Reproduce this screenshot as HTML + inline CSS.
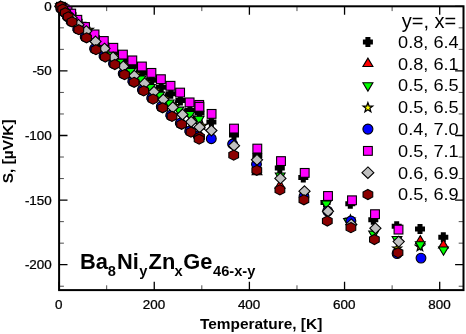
<!DOCTYPE html>
<html><head><meta charset="utf-8"><title>Seebeck coefficient</title>
<style>html,body{margin:0;padding:0;background:#fff}svg{display:block}svg text{font-family:"Liberation Sans",sans-serif}</style></head>
<body>
<svg width="466" height="334" viewBox="0 0 466 334">
<rect width="466" height="334" fill="#fff"/>
<path d="M59.1 6.3 v8.4 M59.1 290.1 v-8.4 M154.25 6.3 v8.4 M154.25 290.1 v-8.4 M249.4 6.3 v8.4 M249.4 290.1 v-8.4 M344.55 6.3 v8.4 M344.55 290.1 v-8.4 M439.7 6.3 v8.4 M439.7 290.1 v-8.4 M59.1 6.3 h8.4 M463.5 6.3 h-8.4 M59.1 70.9 h8.4 M463.5 70.9 h-8.4 M59.1 135.5 h8.4 M463.5 135.5 h-8.4 M59.1 200.1 h8.4 M463.5 200.1 h-8.4 M59.1 264.7 h8.4 M463.5 264.7 h-8.4" stroke="#000" stroke-width="1.3" fill="none"/>
<path d="M106.68 6.3 v4.8 M106.68 290.1 v-4.8 M201.82 6.3 v4.8 M201.82 290.1 v-4.8 M296.97 6.3 v4.8 M296.97 290.1 v-4.8 M392.12 6.3 v4.8 M392.12 290.1 v-4.8 M59.1 27.83 h4.8 M463.5 27.83 h-4.8 M59.1 49.37 h4.8 M463.5 49.37 h-4.8 M59.1 92.43 h4.8 M463.5 92.43 h-4.8 M59.1 113.97 h4.8 M463.5 113.97 h-4.8 M59.1 157.03 h4.8 M463.5 157.03 h-4.8 M59.1 178.57 h4.8 M463.5 178.57 h-4.8 M59.1 221.63 h4.8 M463.5 221.63 h-4.8 M59.1 243.17 h4.8 M463.5 243.17 h-4.8 M59.1 286.23 h4.8 M463.5 286.23 h-4.8" stroke="#000" stroke-width="0.7" fill="none"/>
<rect x="59.1" y="6.3" width="404.4" height="283.8" fill="none" stroke="#000" stroke-width="2"/>
<g>
<polygon points="60.9,1.41 65.8,9.64 56,9.64" fill="#f00" stroke="#000" stroke-width="1.1"/>
<polygon points="62.57,3.71 67.47,11.94 57.67,11.94" fill="#f00" stroke="#000" stroke-width="1.1"/>
<polygon points="65.03,6.71 69.93,14.94 60.13,14.94" fill="#f00" stroke="#000" stroke-width="1.1"/>
<polygon points="67.8,10.21 72.7,18.44 62.9,18.44" fill="#f00" stroke="#000" stroke-width="1.1"/>
<polygon points="71.47,14.71 76.37,22.94 66.57,22.94" fill="#f00" stroke="#000" stroke-width="1.1"/>
<polygon points="78.13,21.91 83.03,30.14 73.23,30.14" fill="#f00" stroke="#000" stroke-width="1.1"/>
<polygon points="85.7,29.41 90.6,37.64 80.8,37.64" fill="#f00" stroke="#000" stroke-width="1.1"/>
<polygon points="95.1,41.31 100,49.54 90.2,49.54" fill="#f00" stroke="#000" stroke-width="1.1"/>
<polygon points="104.5,48.61 109.4,56.84 99.6,56.84" fill="#f00" stroke="#000" stroke-width="1.1"/>
<polygon points="114,56.11 118.9,64.34 109.1,64.34" fill="#f00" stroke="#000" stroke-width="1.1"/>
<polygon points="123.7,66.21 128.6,74.44 118.8,74.44" fill="#f00" stroke="#000" stroke-width="1.1"/>
<polygon points="133.3,73.91 138.2,82.14 128.4,82.14" fill="#f00" stroke="#000" stroke-width="1.1"/>
<polygon points="142.9,82.51 147.8,90.74 138,90.74" fill="#f00" stroke="#000" stroke-width="1.1"/>
<polygon points="152.2,90.71 157.1,98.94 147.3,98.94" fill="#f00" stroke="#000" stroke-width="1.1"/>
<polygon points="161.8,99.41 166.7,107.64 156.9,107.64" fill="#f00" stroke="#000" stroke-width="1.1"/>
<polygon points="171.2,108.01 176.1,116.24 166.3,116.24" fill="#f00" stroke="#000" stroke-width="1.1"/>
<polygon points="180.8,115.91 185.7,124.14 175.9,124.14" fill="#f00" stroke="#000" stroke-width="1.1"/>
<polygon points="190.2,123.71 195.1,131.94 185.3,131.94" fill="#f00" stroke="#000" stroke-width="1.1"/>
<polygon points="198.7,128.61 203.6,136.84 193.8,136.84" fill="#f00" stroke="#000" stroke-width="1.1"/>
<polygon points="257,166.51 261.9,174.74 252.1,174.74" fill="#f00" stroke="#000" stroke-width="1.1"/>
<polygon points="280,180.11 284.9,188.34 275.1,188.34" fill="#f00" stroke="#000" stroke-width="1.1"/>
<polygon points="420.3,235.61 425.2,243.84 415.4,243.84" fill="#f00" stroke="#000" stroke-width="1.1"/>
<polygon points="58.7,1.85 63.7,1.85 63.7,4.35 66.2,4.35 66.2,9.36 63.7,9.36 63.7,11.86 58.7,11.86 58.7,9.36 56.2,9.36 56.2,4.35 58.7,4.35" fill="#000"/>
<polygon points="60.4,2.96 65.4,2.96 65.4,5.46 67.9,5.46 67.9,10.46 65.4,10.46 65.4,12.96 60.4,12.96 60.4,10.46 57.9,10.46 57.9,5.46 60.4,5.46" fill="#000"/>
<polygon points="62.3,4.63 67.3,4.63 67.3,7.13 69.8,7.13 69.8,12.13 67.3,12.13 67.3,14.63 62.3,14.63 62.3,12.13 59.8,12.13 59.8,7.13 62.3,7.13" fill="#000"/>
<polygon points="65.3,6.74 70.3,6.74 70.3,9.24 72.8,9.24 72.8,14.24 70.3,14.24 70.3,16.74 65.3,16.74 65.3,14.24 62.8,14.24 62.8,9.24 65.3,9.24" fill="#000"/>
<polygon points="69,9.4 74,9.4 74,11.9 76.5,11.9 76.5,16.9 74,16.9 74,19.4 69,19.4 69,16.9 66.5,16.9 66.5,11.9 69,11.9" fill="#000"/>
<polygon points="75.1,16.29 80.1,16.29 80.1,18.79 82.6,18.79 82.6,23.79 80.1,23.79 80.1,26.29 75.1,26.29 75.1,23.79 72.6,23.79 72.6,18.79 75.1,18.79" fill="#000"/>
<polygon points="82.8,24.28 87.8,24.28 87.8,26.78 90.3,26.78 90.3,31.78 87.8,31.78 87.8,34.28 82.8,34.28 82.8,31.78 80.3,31.78 80.3,26.78 82.8,26.78" fill="#000"/>
<polygon points="92.3,32.49 97.3,32.49 97.3,34.99 99.8,34.99 99.8,39.99 97.3,39.99 97.3,42.49 92.3,42.49 92.3,39.99 89.8,39.99 89.8,34.99 92.3,34.99" fill="#000"/>
<polygon points="101.6,39.82 106.6,39.82 106.6,42.32 109.1,42.32 109.1,47.32 106.6,47.32 106.6,49.82 101.6,49.82 101.6,47.32 99.1,47.32 99.1,42.32 101.6,42.32" fill="#000"/>
<polygon points="111.1,47.36 116.1,47.36 116.1,49.86 118.6,49.86 118.6,54.86 116.1,54.86 116.1,57.36 111.1,57.36 111.1,54.86 108.6,54.86 108.6,49.86 111.1,49.86" fill="#000"/>
<polygon points="120.7,54.91 125.7,54.91 125.7,57.41 128.2,57.41 128.2,62.41 125.7,62.41 125.7,64.91 120.7,64.91 120.7,62.41 118.2,62.41 118.2,57.41 120.7,57.41" fill="#000"/>
<polygon points="130.1,61.35 135.1,61.35 135.1,63.85 137.6,63.85 137.6,68.85 135.1,68.85 135.1,71.35 130.1,71.35 130.1,68.85 127.6,68.85 127.6,63.85 130.1,63.85" fill="#000"/>
<polygon points="139.7,68.12 144.7,68.12 144.7,70.62 147.2,70.62 147.2,75.62 144.7,75.62 144.7,78.12 139.7,78.12 139.7,75.62 137.2,75.62 137.2,70.62 139.7,70.62" fill="#000"/>
<polygon points="149.2,75.23 154.2,75.23 154.2,77.73 156.7,77.73 156.7,82.73 154.2,82.73 154.2,85.23 149.2,85.23 149.2,82.73 146.7,82.73 146.7,77.73 149.2,77.73" fill="#000"/>
<polygon points="158.7,82.2 163.7,82.2 163.7,84.7 166.2,84.7 166.2,89.7 163.7,89.7 163.7,92.2 158.7,92.2 158.7,89.7 156.2,89.7 156.2,84.7 158.7,84.7" fill="#000"/>
<polygon points="168.3,88.8 173.3,88.8 173.3,91.3 175.8,91.3 175.8,96.3 173.3,96.3 173.3,98.8 168.3,98.8 168.3,96.3 165.8,96.3 165.8,91.3 168.3,91.3" fill="#000"/>
<polygon points="177.9,95.6 182.9,95.6 182.9,98.1 185.4,98.1 185.4,103.1 182.9,103.1 182.9,105.6 177.9,105.6 177.9,103.1 175.4,103.1 175.4,98.1 177.9,98.1" fill="#000"/>
<polygon points="187.4,105.4 192.4,105.4 192.4,107.9 194.9,107.9 194.9,112.9 192.4,112.9 192.4,115.4 187.4,115.4 187.4,112.9 184.9,112.9 184.9,107.9 187.4,107.9" fill="#000"/>
<polygon points="197,107.9 202,107.9 202,110.4 204.5,110.4 204.5,115.4 202,115.4 202,117.9 197,117.9 197,115.4 194.5,115.4 194.5,110.4 197,110.4" fill="#000"/>
<polygon points="208.9,117 213.9,117 213.9,119.5 216.4,119.5 216.4,124.5 213.9,124.5 213.9,127 208.9,127 208.9,124.5 206.4,124.5 206.4,119.5 208.9,119.5" fill="#000"/>
<polygon points="231.5,130.1 236.5,130.1 236.5,132.6 239,132.6 239,137.6 236.5,137.6 236.5,140.1 231.5,140.1 231.5,137.6 229,137.6 229,132.6 231.5,132.6" fill="#000"/>
<polygon points="254.8,150.4 259.8,150.4 259.8,152.9 262.3,152.9 262.3,157.9 259.8,157.9 259.8,160.4 254.8,160.4 254.8,157.9 252.3,157.9 252.3,152.9 254.8,152.9" fill="#000"/>
<polygon points="277.3,163 282.3,163 282.3,165.5 284.8,165.5 284.8,170.5 282.3,170.5 282.3,173 277.3,173 277.3,170.5 274.8,170.5 274.8,165.5 277.3,165.5" fill="#000"/>
<polygon points="300.8,172.6 305.8,172.6 305.8,175.1 308.3,175.1 308.3,180.1 305.8,180.1 305.8,182.6 300.8,182.6 300.8,180.1 298.3,180.1 298.3,175.1 300.8,175.1" fill="#000"/>
<polygon points="323,197.6 328,197.6 328,200.1 330.5,200.1 330.5,205.1 328,205.1 328,207.6 323,207.6 323,205.1 320.5,205.1 320.5,200.1 323,200.1" fill="#000"/>
<polygon points="347.8,198.8 352.8,198.8 352.8,201.3 355.3,201.3 355.3,206.3 352.8,206.3 352.8,208.8 347.8,208.8 347.8,206.3 345.3,206.3 345.3,201.3 347.8,201.3" fill="#000"/>
<polygon points="370.8,214.7 375.8,214.7 375.8,217.2 378.3,217.2 378.3,222.2 375.8,222.2 375.8,224.7 370.8,224.7 370.8,222.2 368.3,222.2 368.3,217.2 370.8,217.2" fill="#000"/>
<polygon points="394.2,221.3 399.2,221.3 399.2,223.8 401.7,223.8 401.7,228.8 399.2,228.8 399.2,231.3 394.2,231.3 394.2,228.8 391.7,228.8 391.7,223.8 394.2,223.8" fill="#000"/>
<polygon points="417.5,224 422.5,224 422.5,226.5 425,226.5 425,231.5 422.5,231.5 422.5,234 417.5,234 417.5,231.5 415,231.5 415,226.5 417.5,226.5" fill="#000"/>
<polygon points="440.8,232.3 445.8,232.3 445.8,234.8 448.3,234.8 448.3,239.8 445.8,239.8 445.8,242.3 440.8,242.3 440.8,239.8 438.3,239.8 438.3,234.8 440.8,234.8" fill="#000"/>
<polygon points="443.4,239.81 448.3,248.04 438.5,248.04" fill="#f00" stroke="#000" stroke-width="1.1"/>
<polygon points="60.3,2.3 61.44,5.34 64.67,5.48 62.14,7.5 63,10.62 60.3,8.83 57.6,10.62 58.46,7.5 55.93,5.48 59.16,5.34" fill="#ff0" stroke="#000" stroke-width="1.3"/>
<polygon points="62.53,3.7 63.67,6.74 66.91,6.88 64.37,8.9 65.24,12.02 62.53,10.23 59.83,12.02 60.7,8.9 58.16,6.88 61.4,6.74" fill="#ff0" stroke="#000" stroke-width="1.3"/>
<polygon points="65.57,6 66.7,9.04 69.94,9.18 67.4,11.2 68.27,14.32 65.57,12.53 62.86,14.32 63.73,11.2 61.19,9.18 64.43,9.04" fill="#ff0" stroke="#000" stroke-width="1.3"/>
<polygon points="68.9,8.9 70.04,11.94 73.27,12.08 70.74,14.1 71.6,17.22 68.9,15.43 66.2,17.22 67.06,14.1 64.53,12.08 67.76,11.94" fill="#ff0" stroke="#000" stroke-width="1.3"/>
<polygon points="73.53,12.65 74.67,15.69 77.91,15.83 75.37,17.85 76.24,20.98 73.53,19.19 70.83,20.98 71.7,17.85 69.16,15.83 72.4,15.69" fill="#ff0" stroke="#000" stroke-width="1.3"/>
<polygon points="80.67,19.05 81.8,22.09 85.04,22.23 82.5,24.25 83.37,27.38 80.67,25.59 77.96,27.38 78.83,24.25 76.29,22.23 79.53,22.09" fill="#ff0" stroke="#000" stroke-width="1.3"/>
<polygon points="88.9,25.09 90.04,28.13 93.27,28.27 90.74,30.29 91.6,33.41 88.9,31.62 86.2,33.41 87.06,30.29 84.53,28.27 87.76,28.13" fill="#ff0" stroke="#000" stroke-width="1.3"/>
<polygon points="98.1,35.44 99.24,38.48 102.47,38.62 99.94,40.64 100.8,43.76 98.1,41.97 95.4,43.76 96.26,40.64 93.73,38.62 96.96,38.48" fill="#ff0" stroke="#000" stroke-width="1.3"/>
<polygon points="107.1,42.6 108.24,45.64 111.47,45.78 108.94,47.8 109.8,50.92 107.1,49.13 104.4,50.92 105.26,47.8 102.73,45.78 105.96,45.64" fill="#ff0" stroke="#000" stroke-width="1.3"/>
<polygon points="115.7,51.4 116.84,54.44 120.07,54.58 117.54,56.6 118.4,59.72 115.7,57.93 113,59.72 113.86,56.6 111.33,54.58 114.56,54.44" fill="#ff0" stroke="#000" stroke-width="1.3"/>
<polygon points="125.9,60.4 127.04,63.44 130.27,63.58 127.74,65.6 128.6,68.72 125.9,66.93 123.2,68.72 124.06,65.6 121.53,63.58 124.76,63.44" fill="#ff0" stroke="#000" stroke-width="1.3"/>
<polygon points="136.9,69.7 138.04,72.74 141.27,72.88 138.74,74.9 139.6,78.02 136.9,76.23 134.2,78.02 135.06,74.9 132.53,72.88 135.76,72.74" fill="#ff0" stroke="#000" stroke-width="1.3"/>
<polygon points="147.2,77.4 148.34,80.44 151.57,80.58 149.04,82.6 149.9,85.72 147.2,83.93 144.5,85.72 145.36,82.6 142.83,80.58 146.06,80.44" fill="#ff0" stroke="#000" stroke-width="1.3"/>
<polygon points="156.6,85.8 157.74,88.84 160.97,88.98 158.44,91 159.3,94.12 156.6,92.33 153.9,94.12 154.76,91 152.23,88.98 155.46,88.84" fill="#ff0" stroke="#000" stroke-width="1.3"/>
<polygon points="165.9,93.5 167.04,96.54 170.27,96.68 167.74,98.7 168.6,101.82 165.9,100.03 163.2,101.82 164.06,98.7 161.53,96.68 164.76,96.54" fill="#ff0" stroke="#000" stroke-width="1.3"/>
<polygon points="175.4,101.4 176.54,104.44 179.77,104.58 177.24,106.6 178.1,109.72 175.4,107.93 172.7,109.72 173.56,106.6 171.03,104.58 174.26,104.44" fill="#ff0" stroke="#000" stroke-width="1.3"/>
<polygon points="185.1,108.5 186.24,111.54 189.47,111.68 186.94,113.7 187.8,116.82 185.1,115.03 182.4,116.82 183.26,113.7 180.73,111.68 183.96,111.54" fill="#ff0" stroke="#000" stroke-width="1.3"/>
<polygon points="193.8,115.8 194.94,118.84 198.17,118.98 195.64,121 196.5,124.12 193.8,122.33 191.1,124.12 191.96,121 189.43,118.98 192.66,118.84" fill="#ff0" stroke="#000" stroke-width="1.3"/>
<polygon points="202.2,121.2 203.34,124.24 206.57,124.38 204.04,126.4 204.9,129.52 202.2,127.73 199.5,129.52 200.36,126.4 197.83,124.38 201.06,124.24" fill="#ff0" stroke="#000" stroke-width="1.3"/>
<polygon points="350.4,215 351.54,218.04 354.77,218.18 352.24,220.2 353.1,223.32 350.4,221.53 347.7,223.32 348.56,220.2 346.03,218.18 349.26,218.04" fill="#ff0" stroke="#000" stroke-width="1.3"/>
<polygon points="397.2,243.8 398.34,246.84 401.57,246.98 399.04,249 399.9,252.12 397.2,250.33 394.5,252.12 395.36,249 392.83,246.98 396.06,246.84" fill="#ff0" stroke="#000" stroke-width="1.3"/>
<polygon points="419.9,242.1 421.04,245.14 424.27,245.28 421.74,247.3 422.6,250.42 419.9,248.63 417.2,250.42 418.06,247.3 415.53,245.28 418.76,245.14" fill="#ff0" stroke="#000" stroke-width="1.3"/>
<polygon points="60.27,11.95 65.17,3.72 55.37,3.72" fill="#0f0" stroke="#000" stroke-width="1.1"/>
<polygon points="61.88,13.41 66.78,5.18 56.98,5.18" fill="#0f0" stroke="#000" stroke-width="1.1"/>
<polygon points="64.22,15.67 69.12,7.44 59.32,7.44" fill="#0f0" stroke="#000" stroke-width="1.1"/>
<polygon points="66.82,18.49 71.72,10.26 61.92,10.26" fill="#0f0" stroke="#000" stroke-width="1.1"/>
<polygon points="70.59,21.99 75.49,13.76 65.69,13.76" fill="#0f0" stroke="#000" stroke-width="1.1"/>
<polygon points="76.6,27.81 81.5,19.58 71.7,19.58" fill="#0f0" stroke="#000" stroke-width="1.1"/>
<polygon points="83.59,33.12 88.49,24.89 78.69,24.89" fill="#0f0" stroke="#000" stroke-width="1.1"/>
<polygon points="91.9,42.33 96.8,34.1 87,34.1" fill="#0f0" stroke="#000" stroke-width="1.1"/>
<polygon points="100.9,49.49 105.8,41.26 96,41.26" fill="#0f0" stroke="#000" stroke-width="1.1"/>
<polygon points="109.5,58.29 114.4,50.06 104.6,50.06" fill="#0f0" stroke="#000" stroke-width="1.1"/>
<polygon points="119.7,67.29 124.6,59.06 114.8,59.06" fill="#0f0" stroke="#000" stroke-width="1.1"/>
<polygon points="130.7,76.59 135.6,68.36 125.8,68.36" fill="#0f0" stroke="#000" stroke-width="1.1"/>
<polygon points="141,84.29 145.9,76.06 136.1,76.06" fill="#0f0" stroke="#000" stroke-width="1.1"/>
<polygon points="150.4,92.69 155.3,84.46 145.5,84.46" fill="#0f0" stroke="#000" stroke-width="1.1"/>
<polygon points="159.7,100.39 164.6,92.16 154.8,92.16" fill="#0f0" stroke="#000" stroke-width="1.1"/>
<polygon points="169.2,108.29 174.1,100.06 164.3,100.06" fill="#0f0" stroke="#000" stroke-width="1.1"/>
<polygon points="178.9,115.39 183.8,107.16 174,107.16" fill="#0f0" stroke="#000" stroke-width="1.1"/>
<polygon points="189.8,119.69 194.7,111.46 184.9,111.46" fill="#0f0" stroke="#000" stroke-width="1.1"/>
<polygon points="199.1,124.49 204,116.26 194.2,116.26" fill="#0f0" stroke="#000" stroke-width="1.1"/>
<polygon points="280.2,181.19 285.1,172.96 275.3,172.96" fill="#0f0" stroke="#000" stroke-width="1.1"/>
<polygon points="326.3,209.29 331.2,201.06 321.4,201.06" fill="#0f0" stroke="#000" stroke-width="1.1"/>
<polygon points="348.5,226.79 353.4,218.56 343.6,218.56" fill="#0f0" stroke="#000" stroke-width="1.1"/>
<polygon points="373.6,239.39 378.5,231.16 368.7,231.16" fill="#0f0" stroke="#000" stroke-width="1.1"/>
<polygon points="397,244.79 401.9,236.56 392.1,236.56" fill="#0f0" stroke="#000" stroke-width="1.1"/>
<polygon points="420.3,249.99 425.2,241.76 415.4,241.76" fill="#0f0" stroke="#000" stroke-width="1.1"/>
<polygon points="443.5,255.19 448.4,246.96 438.6,246.96" fill="#0f0" stroke="#000" stroke-width="1.1"/>
<circle cx="60.9" cy="6.8" r="4.9" fill="#00f" stroke="#000" stroke-width="1.1"/>
<circle cx="62.48" cy="9.42" r="4.9" fill="#00f" stroke="#000" stroke-width="1.1"/>
<circle cx="64.87" cy="12.73" r="4.9" fill="#00f" stroke="#000" stroke-width="1.1"/>
<circle cx="67.55" cy="16.55" r="4.9" fill="#00f" stroke="#000" stroke-width="1.1"/>
<circle cx="71.13" cy="21.37" r="4.9" fill="#00f" stroke="#000" stroke-width="1.1"/>
<circle cx="77.72" cy="28.88" r="4.9" fill="#00f" stroke="#000" stroke-width="1.1"/>
<circle cx="85.2" cy="36.7" r="4.9" fill="#00f" stroke="#000" stroke-width="1.1"/>
<circle cx="94.6" cy="48.6" r="4.9" fill="#00f" stroke="#000" stroke-width="1.1"/>
<circle cx="104" cy="55.9" r="4.9" fill="#00f" stroke="#000" stroke-width="1.1"/>
<circle cx="113.5" cy="63.4" r="4.9" fill="#00f" stroke="#000" stroke-width="1.1"/>
<circle cx="123.2" cy="73.5" r="4.9" fill="#00f" stroke="#000" stroke-width="1.1"/>
<circle cx="132.8" cy="81.2" r="4.9" fill="#00f" stroke="#000" stroke-width="1.1"/>
<circle cx="142.4" cy="89.8" r="4.9" fill="#00f" stroke="#000" stroke-width="1.1"/>
<circle cx="151.7" cy="98" r="4.9" fill="#00f" stroke="#000" stroke-width="1.1"/>
<circle cx="161.3" cy="106.7" r="4.9" fill="#00f" stroke="#000" stroke-width="1.1"/>
<circle cx="170.7" cy="115.3" r="4.9" fill="#00f" stroke="#000" stroke-width="1.1"/>
<circle cx="180.3" cy="123.2" r="4.9" fill="#00f" stroke="#000" stroke-width="1.1"/>
<circle cx="189.7" cy="131" r="4.9" fill="#00f" stroke="#000" stroke-width="1.1"/>
<circle cx="198.2" cy="135.9" r="4.9" fill="#00f" stroke="#000" stroke-width="1.1"/>
<circle cx="211.3" cy="138.7" r="4.9" fill="#00f" stroke="#000" stroke-width="1.1"/>
<circle cx="232.6" cy="144" r="4.9" fill="#00f" stroke="#000" stroke-width="1.1"/>
<circle cx="256.5" cy="164.3" r="4.9" fill="#00f" stroke="#000" stroke-width="1.1"/>
<circle cx="304" cy="196.3" r="4.9" fill="#00f" stroke="#000" stroke-width="1.1"/>
<circle cx="327.7" cy="211.2" r="4.9" fill="#00f" stroke="#000" stroke-width="1.1"/>
<circle cx="350.9" cy="221" r="4.9" fill="#00f" stroke="#000" stroke-width="1.1"/>
<circle cx="397.1" cy="253.6" r="4.9" fill="#00f" stroke="#000" stroke-width="1.1"/>
<circle cx="421" cy="258.1" r="4.9" fill="#00f" stroke="#000" stroke-width="1.1"/>
<rect x="56.5" y="2.4" width="8.8" height="8.8" fill="#f0f" stroke="#000" stroke-width="1.1"/>
<rect x="58.2" y="3.4" width="8.8" height="8.8" fill="#f0f" stroke="#000" stroke-width="1.1"/>
<rect x="60.1" y="4.9" width="8.8" height="8.8" fill="#f0f" stroke="#000" stroke-width="1.1"/>
<rect x="63.1" y="6.8" width="8.8" height="8.8" fill="#f0f" stroke="#000" stroke-width="1.1"/>
<rect x="66.8" y="9.2" width="8.8" height="8.8" fill="#f0f" stroke="#000" stroke-width="1.1"/>
<rect x="72.9" y="15.4" width="8.8" height="8.8" fill="#f0f" stroke="#000" stroke-width="1.1"/>
<rect x="80.6" y="22.6" width="8.8" height="8.8" fill="#f0f" stroke="#000" stroke-width="1.1"/>
<rect x="90.1" y="30" width="8.8" height="8.8" fill="#f0f" stroke="#000" stroke-width="1.1"/>
<rect x="99.4" y="36.6" width="8.8" height="8.8" fill="#f0f" stroke="#000" stroke-width="1.1"/>
<rect x="108.9" y="43.4" width="8.8" height="8.8" fill="#f0f" stroke="#000" stroke-width="1.1"/>
<rect x="118.5" y="50.2" width="8.8" height="8.8" fill="#f0f" stroke="#000" stroke-width="1.1"/>
<rect x="127.9" y="56" width="8.8" height="8.8" fill="#f0f" stroke="#000" stroke-width="1.1"/>
<rect x="137.5" y="62.1" width="8.8" height="8.8" fill="#f0f" stroke="#000" stroke-width="1.1"/>
<rect x="147" y="68.5" width="8.8" height="8.8" fill="#f0f" stroke="#000" stroke-width="1.1"/>
<rect x="156.5" y="74.8" width="8.8" height="8.8" fill="#f0f" stroke="#000" stroke-width="1.1"/>
<rect x="166.1" y="81.4" width="8.8" height="8.8" fill="#f0f" stroke="#000" stroke-width="1.1"/>
<rect x="175.7" y="88.2" width="8.8" height="8.8" fill="#f0f" stroke="#000" stroke-width="1.1"/>
<rect x="185.2" y="98" width="8.8" height="8.8" fill="#f0f" stroke="#000" stroke-width="1.1"/>
<rect x="194.8" y="100.5" width="8.8" height="8.8" fill="#f0f" stroke="#000" stroke-width="1.1"/>
<rect x="195" y="102.4" width="8.8" height="8.8" fill="#f0f" stroke="#000" stroke-width="1.1"/>
<rect x="207.2" y="109.5" width="8.8" height="8.8" fill="#f0f" stroke="#000" stroke-width="1.1"/>
<rect x="229.6" y="124.2" width="8.8" height="8.8" fill="#f0f" stroke="#000" stroke-width="1.1"/>
<rect x="252.9" y="144.2" width="8.8" height="8.8" fill="#f0f" stroke="#000" stroke-width="1.1"/>
<rect x="276.6" y="156.7" width="8.8" height="8.8" fill="#f0f" stroke="#000" stroke-width="1.1"/>
<rect x="300.3" y="168.5" width="8.8" height="8.8" fill="#f0f" stroke="#000" stroke-width="1.1"/>
<rect x="323.6" y="191.6" width="8.8" height="8.8" fill="#f0f" stroke="#000" stroke-width="1.1"/>
<rect x="347.6" y="195.9" width="8.8" height="8.8" fill="#f0f" stroke="#000" stroke-width="1.1"/>
<rect x="370.6" y="209.8" width="8.8" height="8.8" fill="#f0f" stroke="#000" stroke-width="1.1"/>
<rect x="394.1" y="225.2" width="8.8" height="8.8" fill="#f0f" stroke="#000" stroke-width="1.1"/>
<polygon points="60.3,1.07 65.89,6.5 60.3,11.93 54.71,6.5" fill="#c0c0c0" stroke="#000" stroke-width="1.1"/>
<polygon points="62.1,2.77 67.69,8.2 62.1,13.63 56.51,8.2" fill="#c0c0c0" stroke="#000" stroke-width="1.1"/>
<polygon points="64.7,5.37 70.29,10.8 64.7,16.23 59.11,10.8" fill="#c0c0c0" stroke="#000" stroke-width="1.1"/>
<polygon points="67.6,8.57 73.19,14 67.6,19.43 62.01,14" fill="#c0c0c0" stroke="#000" stroke-width="1.1"/>
<polygon points="71.8,12.63 77.39,18.05 71.8,23.48 66.21,18.05" fill="#c0c0c0" stroke="#000" stroke-width="1.1"/>
<polygon points="78.5,19.33 84.09,24.75 78.5,30.18 72.91,24.75" fill="#c0c0c0" stroke="#000" stroke-width="1.1"/>
<polygon points="86.3,25.66 91.89,31.09 86.3,36.51 80.71,31.09" fill="#c0c0c0" stroke="#000" stroke-width="1.1"/>
<polygon points="95.5,36.02 101.09,41.44 95.5,46.87 89.91,41.44" fill="#c0c0c0" stroke="#000" stroke-width="1.1"/>
<polygon points="104.5,43.17 110.09,48.6 104.5,54.03 98.91,48.6" fill="#c0c0c0" stroke="#000" stroke-width="1.1"/>
<polygon points="113.1,51.97 118.69,57.4 113.1,62.83 107.51,57.4" fill="#c0c0c0" stroke="#000" stroke-width="1.1"/>
<polygon points="123.3,60.97 128.89,66.4 123.3,71.83 117.71,66.4" fill="#c0c0c0" stroke="#000" stroke-width="1.1"/>
<polygon points="134.3,70.27 139.89,75.7 134.3,81.13 128.71,75.7" fill="#c0c0c0" stroke="#000" stroke-width="1.1"/>
<polygon points="144.6,77.97 150.19,83.4 144.6,88.83 139.01,83.4" fill="#c0c0c0" stroke="#000" stroke-width="1.1"/>
<polygon points="154,86.37 159.59,91.8 154,97.23 148.41,91.8" fill="#c0c0c0" stroke="#000" stroke-width="1.1"/>
<polygon points="163.3,94.07 168.89,99.5 163.3,104.93 157.71,99.5" fill="#c0c0c0" stroke="#000" stroke-width="1.1"/>
<polygon points="172.8,101.97 178.39,107.4 172.8,112.83 167.21,107.4" fill="#c0c0c0" stroke="#000" stroke-width="1.1"/>
<polygon points="182.5,109.07 188.09,114.5 182.5,119.93 176.91,114.5" fill="#c0c0c0" stroke="#000" stroke-width="1.1"/>
<polygon points="191.2,116.37 196.79,121.8 191.2,127.23 185.61,121.8" fill="#c0c0c0" stroke="#000" stroke-width="1.1"/>
<polygon points="199.6,121.77 205.19,127.2 199.6,132.63 194.01,127.2" fill="#c0c0c0" stroke="#000" stroke-width="1.1"/>
<polygon points="211.4,125.07 216.99,130.5 211.4,135.93 205.81,130.5" fill="#c0c0c0" stroke="#000" stroke-width="1.1"/>
<polygon points="234,140.27 239.59,145.7 234,151.13 228.41,145.7" fill="#c0c0c0" stroke="#000" stroke-width="1.1"/>
<polygon points="257,154.37 262.59,159.8 257,165.23 251.41,159.8" fill="#c0c0c0" stroke="#000" stroke-width="1.1"/>
<polygon points="280.4,172.97 285.99,178.4 280.4,183.83 274.81,178.4" fill="#c0c0c0" stroke="#000" stroke-width="1.1"/>
<polygon points="304.5,185.77 310.09,191.2 304.5,196.63 298.91,191.2" fill="#c0c0c0" stroke="#000" stroke-width="1.1"/>
<polygon points="328,205.87 333.59,211.3 328,216.73 322.41,211.3" fill="#c0c0c0" stroke="#000" stroke-width="1.1"/>
<polygon points="351.3,218.97 356.89,224.4 351.3,229.83 345.71,224.4" fill="#c0c0c0" stroke="#000" stroke-width="1.1"/>
<polygon points="375.4,222.77 380.99,228.2 375.4,233.63 369.81,228.2" fill="#c0c0c0" stroke="#000" stroke-width="1.1"/>
<polygon points="398.7,236.17 404.29,241.6 398.7,247.03 393.11,241.6" fill="#c0c0c0" stroke="#000" stroke-width="1.1"/>
<polygon points="60.9,1.15 65.75,3.67 65.75,8.72 60.9,11.25 56.05,8.73 56.05,3.67" fill="#8b0000" stroke="#000" stroke-width="1.1"/>
<polygon points="62.7,4.05 67.55,6.57 67.55,11.62 62.7,14.15 57.85,11.63 57.85,6.57" fill="#8b0000" stroke="#000" stroke-width="1.1"/>
<polygon points="65.3,7.65 70.15,10.17 70.15,15.22 65.3,17.75 60.45,15.23 60.45,10.17" fill="#8b0000" stroke="#000" stroke-width="1.1"/>
<polygon points="68.2,11.75 73.05,14.28 73.05,19.32 68.2,21.85 63.35,19.33 63.35,14.28" fill="#8b0000" stroke="#000" stroke-width="1.1"/>
<polygon points="72,16.85 76.85,19.38 76.85,24.42 72,26.95 67.15,24.43 67.15,19.38" fill="#8b0000" stroke="#000" stroke-width="1.1"/>
<polygon points="78.8,24.65 83.65,27.18 83.65,32.23 78.8,34.75 73.95,32.23 73.95,27.17" fill="#8b0000" stroke="#000" stroke-width="1.1"/>
<polygon points="86.5,32.75 91.35,35.27 91.35,40.32 86.5,42.85 81.65,40.32 81.65,35.27" fill="#8b0000" stroke="#000" stroke-width="1.1"/>
<polygon points="95.9,44.65 100.75,47.18 100.75,52.23 95.9,54.75 91.05,52.23 91.05,47.18" fill="#8b0000" stroke="#000" stroke-width="1.1"/>
<polygon points="105.3,51.95 110.15,54.48 110.15,59.52 105.3,62.05 100.45,59.52 100.45,54.48" fill="#8b0000" stroke="#000" stroke-width="1.1"/>
<polygon points="114.8,59.45 119.65,61.98 119.65,67.03 114.8,69.55 109.95,67.03 109.95,61.98" fill="#8b0000" stroke="#000" stroke-width="1.1"/>
<polygon points="124.5,69.55 129.35,72.07 129.35,77.12 124.5,79.65 119.65,77.12 119.65,72.07" fill="#8b0000" stroke="#000" stroke-width="1.1"/>
<polygon points="134.1,77.25 138.95,79.77 138.95,84.83 134.1,87.35 129.25,84.83 129.25,79.77" fill="#8b0000" stroke="#000" stroke-width="1.1"/>
<polygon points="143.7,85.85 148.55,88.38 148.55,93.43 143.7,95.95 138.85,93.43 138.85,88.38" fill="#8b0000" stroke="#000" stroke-width="1.1"/>
<polygon points="153,94.05 157.85,96.57 157.85,101.62 153,104.15 148.15,101.62 148.15,96.57" fill="#8b0000" stroke="#000" stroke-width="1.1"/>
<polygon points="162.6,102.75 167.45,105.27 167.45,110.33 162.6,112.85 157.75,110.33 157.75,105.27" fill="#8b0000" stroke="#000" stroke-width="1.1"/>
<polygon points="172,111.35 176.85,113.88 176.85,118.93 172,121.45 167.15,118.93 167.15,113.88" fill="#8b0000" stroke="#000" stroke-width="1.1"/>
<polygon points="181.6,119.25 186.45,121.77 186.45,126.83 181.6,129.35 176.75,126.83 176.75,121.77" fill="#8b0000" stroke="#000" stroke-width="1.1"/>
<polygon points="191,127.05 195.85,129.57 195.85,134.62 191,137.15 186.15,134.62 186.15,129.57" fill="#8b0000" stroke="#000" stroke-width="1.1"/>
<polygon points="199.5,131.95 204.35,134.47 204.35,139.53 199.5,142.05 194.65,139.53 194.65,134.47" fill="#8b0000" stroke="#000" stroke-width="1.1"/>
<polygon points="199.1,134.15 203.95,136.67 203.95,141.72 199.1,144.25 194.25,141.72 194.25,136.67" fill="#8b0000" stroke="#000" stroke-width="1.1"/>
<polygon points="233.7,150.05 238.55,152.57 238.55,157.62 233.7,160.15 228.85,157.62 228.85,152.57" fill="#8b0000" stroke="#000" stroke-width="1.1"/>
<polygon points="256.8,165.25 261.65,167.78 261.65,172.83 256.8,175.35 251.95,172.83 251.95,167.78" fill="#8b0000" stroke="#000" stroke-width="1.1"/>
<polygon points="279.9,184.85 284.75,187.38 284.75,192.43 279.9,194.95 275.05,192.43 275.05,187.38" fill="#8b0000" stroke="#000" stroke-width="1.1"/>
<polygon points="303.9,194.75 308.75,197.28 308.75,202.33 303.9,204.85 299.05,202.33 299.05,197.28" fill="#8b0000" stroke="#000" stroke-width="1.1"/>
<polygon points="327.3,215.95 332.15,218.47 332.15,223.53 327.3,226.05 322.45,223.53 322.45,218.47" fill="#8b0000" stroke="#000" stroke-width="1.1"/>
<polygon points="350.9,222.55 355.75,225.07 355.75,230.12 350.9,232.65 346.05,230.12 346.05,225.07" fill="#8b0000" stroke="#000" stroke-width="1.1"/>
<polygon points="374.4,234.45 379.25,236.97 379.25,242.03 374.4,244.55 369.55,242.03 369.55,236.97" fill="#8b0000" stroke="#000" stroke-width="1.1"/>
<polygon points="398,247.65 402.85,250.17 402.85,255.22 398,257.75 393.15,255.22 393.15,250.17" fill="#8b0000" stroke="#000" stroke-width="1.1"/>
</g>
<polygon points="365.4,36.9 370.4,36.9 370.4,39.4 372.9,39.4 372.9,44.4 370.4,44.4 370.4,46.9 365.4,46.9 365.4,44.4 362.9,44.4 362.9,39.4 365.4,39.4" fill="#000"/>
<polygon points="367.9,58.1 372.9,66.5 362.9,66.5" fill="#f00" stroke="#000" stroke-width="1.1"/>
<polygon points="367.9,91.1 372.9,82.7 362.9,82.7" fill="#0f0" stroke="#000" stroke-width="1.1"/>
<polygon points="367.9,102.7 369.13,106 372.66,106.15 369.9,108.35 370.84,111.75 367.9,109.8 364.96,111.75 365.9,108.35 363.14,106.15 366.67,106" fill="#ff0" stroke="#000" stroke-width="1.3"/>
<circle cx="367.9" cy="129.1" r="5" fill="#00f" stroke="#000" stroke-width="1.1"/>
<rect x="363.5" y="146.5" width="8.8" height="8.8" fill="#f0f" stroke="#000" stroke-width="1.1"/>
<polygon points="367.9,166.93 373.85,172.7 367.9,178.47 361.95,172.7" fill="#c0c0c0" stroke="#000" stroke-width="1.1"/>
<polygon points="367.9,189.45 372.75,191.97 372.75,197.03 367.9,199.55 363.05,197.03 363.05,191.97" fill="#8b0000" stroke="#000" stroke-width="1.1"/>
<text transform="translate(456.3 27.9) scale(1 1)"  font-size="20" font-weight="normal" text-anchor="end" fill="#000">y=, x=</text>
<text transform="translate(458.6 47.8) scale(1.08 1)"  font-size="16.8" font-weight="normal" text-anchor="end" fill="#000">0.8, 6.4</text>
<text transform="translate(458.6 69.6) scale(1.08 1)"  font-size="16.8" font-weight="normal" text-anchor="end" fill="#000">0.8, 6.1</text>
<text transform="translate(458.6 91.4) scale(1.08 1)"  font-size="16.8" font-weight="normal" text-anchor="end" fill="#000">0.5, 6.5</text>
<text transform="translate(458.6 113.2) scale(1.08 1)"  font-size="16.8" font-weight="normal" text-anchor="end" fill="#000">0.5, 6.5</text>
<text transform="translate(458.6 135) scale(1.08 1)"  font-size="16.8" font-weight="normal" text-anchor="end" fill="#000">0.4, 7.0</text>
<text transform="translate(458.6 156.8) scale(1.08 1)"  font-size="16.8" font-weight="normal" text-anchor="end" fill="#000">0.5, 7.1</text>
<text transform="translate(458.6 178.6) scale(1.08 1)"  font-size="16.8" font-weight="normal" text-anchor="end" fill="#000">0.6, 6.9</text>
<text transform="translate(458.6 200.4) scale(1.08 1)"  font-size="16.8" font-weight="normal" text-anchor="end" fill="#000">0.5, 6.9</text>
<text transform="translate(58.8 309.4) scale(1.12 1)"  font-size="12" font-weight="normal" text-anchor="middle" fill="#000" stroke="#000" stroke-width="0.25">0</text>
<text transform="translate(153.95 309.4) scale(1.12 1)"  font-size="12" font-weight="normal" text-anchor="middle" fill="#000" stroke="#000" stroke-width="0.25">200</text>
<text transform="translate(249.1 309.4) scale(1.12 1)"  font-size="12" font-weight="normal" text-anchor="middle" fill="#000" stroke="#000" stroke-width="0.25">400</text>
<text transform="translate(344.25 309.4) scale(1.12 1)"  font-size="12" font-weight="normal" text-anchor="middle" fill="#000" stroke="#000" stroke-width="0.25">600</text>
<text transform="translate(439.4 309.4) scale(1.12 1)"  font-size="12" font-weight="normal" text-anchor="middle" fill="#000" stroke="#000" stroke-width="0.25">800</text>
<text transform="translate(51.8 10.7) scale(1.12 1)"  font-size="12" font-weight="normal" text-anchor="end" fill="#000" stroke="#000" stroke-width="0.25">0</text>
<text transform="translate(51.8 75.3) scale(1.12 1)"  font-size="12" font-weight="normal" text-anchor="end" fill="#000" stroke="#000" stroke-width="0.25">-50</text>
<text transform="translate(51.8 139.9) scale(1.12 1)"  font-size="12" font-weight="normal" text-anchor="end" fill="#000" stroke="#000" stroke-width="0.25">-100</text>
<text transform="translate(51.8 204.5) scale(1.12 1)"  font-size="12" font-weight="normal" text-anchor="end" fill="#000" stroke="#000" stroke-width="0.25">-150</text>
<text transform="translate(51.8 269.1) scale(1.12 1)"  font-size="12" font-weight="normal" text-anchor="end" fill="#000" stroke="#000" stroke-width="0.25">-200</text>
<text transform="translate(261.1 329.2) scale(1.03 1)"  font-size="15" font-weight="bold" text-anchor="middle" fill="#000">Temperature, [K]</text>
<text transform="translate(13.2 151.3) rotate(-90) scale(1.03 1)"  font-size="15" font-weight="bold" text-anchor="middle" fill="#000">S, [µV/K]</text>
<text transform="translate(79.9 268.5) scale(1.025 1)" font-weight="bold" fill="#000"><tspan x="0" y="0" font-size="21.3">Ba</tspan><tspan x="27.12" y="7" font-size="14.3">8</tspan><tspan x="36.2" y="0" font-size="21.3">Ni</tspan><tspan x="57.85" y="7" font-size="14.3">y</tspan><tspan x="67.02" y="0" font-size="21.3">Zn</tspan><tspan x="92.29" y="7" font-size="14.3">x</tspan><tspan x="100.88" y="0" font-size="21.3">Ge</tspan><tspan x="129.85" y="7" font-size="14.3">46-x-y</tspan></text>
</svg>
</body></html>
